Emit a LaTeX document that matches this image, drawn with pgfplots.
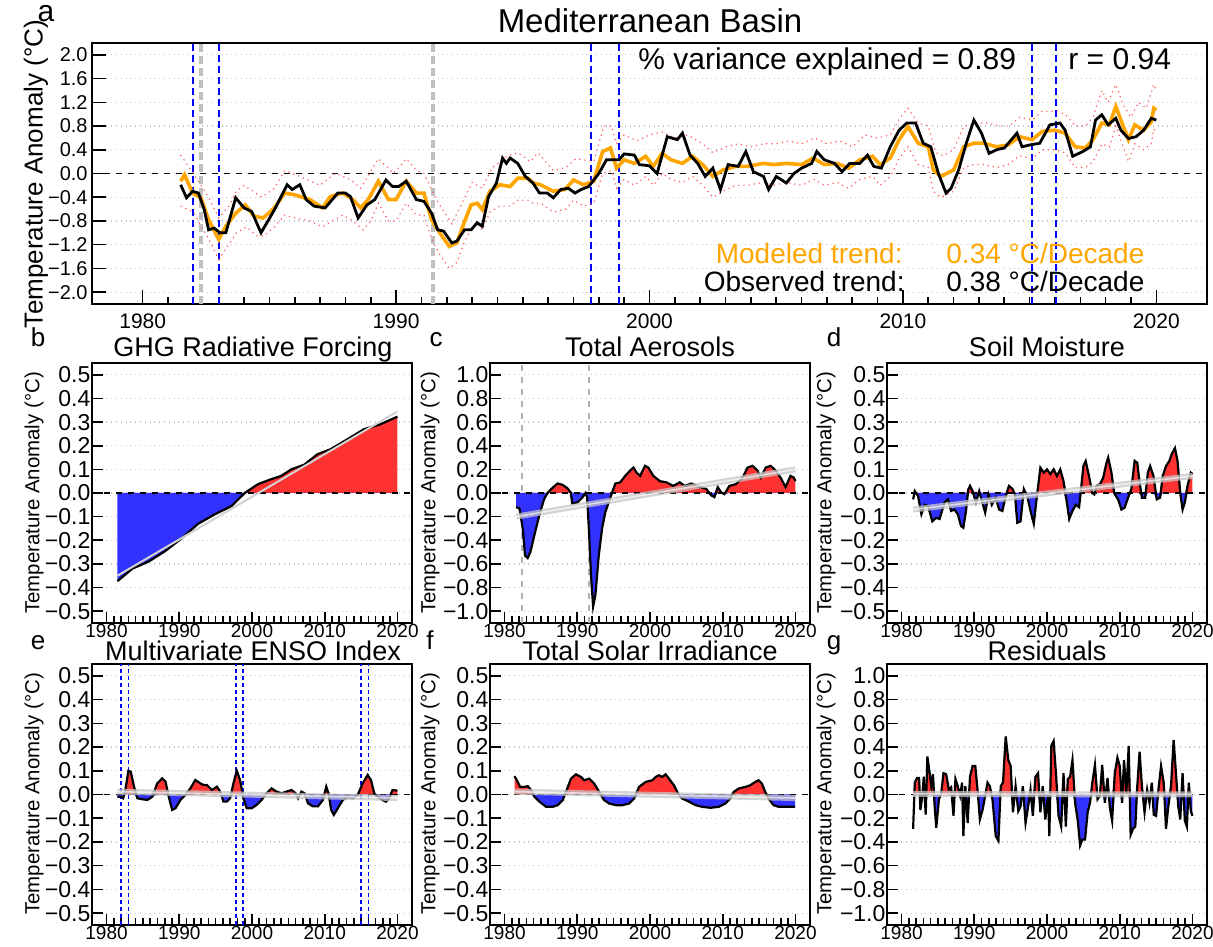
\documentclass[border=0pt]{standalone}
\usepackage{fontspec}
\setmainfont{Liberation Sans}
\usepackage{pgfplots}
\usepackage{pgfplotstable}
\pgfplotsset{compat=1.18}

\definecolor{myred}{RGB}{255,50,50}
\definecolor{myblue}{RGB}{50,50,255}
\definecolor{myorange}{RGB}{255,165,0}
\definecolor{gridc}{RGB}{185,200,220}
\definecolor{boundc}{RGB}{255,90,90}

% ---------------- data ----------------
\pgfplotstableread{
x y
1981.50 -0.19
1981.73 -0.41
1981.97 -0.30
1982.20 -0.33
1982.43 -0.61
1982.60 -0.95
1982.82 -0.92
1983.05 -1.00
1983.28 -1.00
1983.67 -0.41
1984.00 -0.58
1984.30 -0.64
1984.67 -1.00
1985.20 -0.61
1985.70 -0.19
1985.90 -0.27
1986.20 -0.19
1986.45 -0.44
1986.76 -0.55
1987.20 -0.58
1987.70 -0.33
1988.00 -0.33
1988.20 -0.39
1988.50 -0.75
1988.85 -0.53
1989.16 -0.44
1989.60 -0.11
1989.86 -0.22
1990.10 -0.22
1990.40 -0.13
1990.80 -0.44
1991.10 -0.47
1991.40 -0.67
1991.64 -0.95
1991.87 -0.97
1992.20 -1.17
1992.40 -1.14
1992.70 -0.95
1992.96 -0.95
1993.20 -0.83
1993.40 -0.89
1993.65 -0.39
1993.96 -0.16
1994.20 0.26
1994.35 0.17
1994.50 0.26
1994.80 0.17
1995.10 -0.05
1995.40 -0.16
1995.66 -0.33
1995.97 -0.33
1996.20 -0.41
1996.50 -0.27
1996.80 -0.25
1997.06 -0.33
1997.30 -0.27
1997.60 -0.22
1998.00 0.00
1998.30 0.23
1998.80 0.23
1999.00 0.33
1999.40 0.31
1999.60 0.15
2000.00 0.13
2000.30 0.00
2000.70 0.62
2001.10 0.57
2001.30 0.68
2001.60 0.31
2001.90 0.17
2002.20 -0.05
2002.50 0.09
2002.80 -0.27
2003.10 0.15
2003.50 0.12
2003.80 0.37
2004.10 0.03
2004.50 -0.05
2004.70 -0.27
2005.00 -0.05
2005.40 -0.16
2005.70 0.00
2006.00 0.09
2006.40 0.17
2006.60 0.37
2006.90 0.23
2007.30 0.17
2007.60 0.03
2007.90 0.17
2008.30 0.17
2008.60 0.31
2008.85 0.12
2009.15 0.09
2009.50 0.45
2009.85 0.73
2010.15 0.85
2010.50 0.85
2010.80 0.51
2011.10 0.45
2011.40 0.00
2011.70 -0.33
2011.90 -0.25
2012.20 0.06
2012.50 0.51
2012.80 0.90
2013.10 0.68
2013.40 0.34
2013.70 0.40
2014.00 0.43
2014.50 0.68
2014.70 0.45
2015.00 0.48
2015.40 0.51
2015.80 0.82
2016.20 0.85
2016.40 0.73
2016.70 0.29
2017.10 0.37
2017.40 0.45
2017.60 0.90
2017.85 0.99
2018.10 0.82
2018.40 0.93
2018.60 0.73
2018.90 0.59
2019.20 0.62
2019.50 0.73
2019.80 0.93
2020.00 0.90
}\obsdata

\pgfplotstableread{
x y
1981.50 -0.13
1981.65 -0.02
1981.97 -0.33
1982.30 -0.41
1982.60 -0.78
1983.00 -1.11
1983.28 -0.89
1983.67 -0.67
1984.05 -0.53
1984.40 -0.72
1984.75 -0.75
1985.20 -0.58
1985.60 -0.33
1986.00 -0.36
1986.60 -0.44
1987.10 -0.58
1987.40 -0.39
1987.90 -0.33
1988.30 -0.44
1988.60 -0.58
1988.90 -0.44
1989.30 -0.13
1989.70 -0.44
1990.00 -0.44
1990.40 -0.13
1990.80 -0.33
1991.10 -0.33
1991.40 -0.78
1991.72 -1.00
1992.10 -1.23
1992.40 -1.17
1992.70 -0.81
1992.96 -0.53
1993.20 -0.50
1993.40 -0.61
1993.70 -0.30
1994.10 -0.19
1994.50 -0.22
1994.80 -0.08
1995.20 -0.08
1995.40 -0.16
1995.70 -0.19
1996.20 -0.30
1996.66 -0.27
1997.00 -0.11
1997.40 -0.19
1997.80 -0.13
1998.15 0.37
1998.46 0.43
1998.70 0.09
1999.00 0.23
1999.40 0.17
1999.85 0.29
2000.15 0.12
2000.50 0.34
2000.85 0.23
2001.30 0.17
2001.70 0.29
2002.10 0.15
2002.50 -0.05
2002.90 0.06
2003.40 0.12
2003.85 0.12
2004.50 0.17
2004.90 0.15
2005.40 0.17
2006.00 0.15
2006.46 0.26
2006.90 0.15
2007.40 0.17
2007.85 0.09
2008.30 0.23
2008.80 0.29
2009.10 0.15
2009.50 0.26
2009.85 0.57
2010.20 0.79
2010.60 0.51
2011.00 0.45
2011.20 0.06
2011.50 -0.05
2012.00 0.06
2012.40 0.45
2012.80 0.51
2013.20 0.51
2013.70 0.45
2014.15 0.48
2014.60 0.62
2015.10 0.57
2015.50 0.71
2016.00 0.73
2016.40 0.68
2016.80 0.45
2017.20 0.43
2017.50 0.57
2017.85 0.85
2018.15 0.82
2018.40 1.13
2018.70 0.79
2018.90 0.57
2019.15 0.82
2019.50 0.73
2019.80 0.87
2019.90 1.10
2020.00 1.07
}\moddata

\pgfplotstableread{
x y
1981.50 0.31
1982.00 0.00
1982.60 -0.40
1983.00 -0.75
1983.40 -0.55
1983.70 -0.30
1984.00 -0.20
1984.70 -0.40
1985.20 -0.25
1985.60 0.05
1986.20 -0.05
1987.00 -0.20
1987.60 0.00
1988.20 -0.10
1988.60 -0.25
1989.30 0.25
1989.90 0.00
1990.40 0.25
1990.80 0.05
1991.10 0.00
1991.60 -0.45
1992.20 -0.85
1992.60 -0.50
1993.00 -0.15
1993.40 -0.25
1993.80 0.10
1994.40 0.30
1994.80 0.35
1995.30 0.20
1995.60 0.35
1996.20 0.05
1996.70 0.10
1997.10 0.25
1997.80 0.20
1998.20 0.80
1998.50 0.80
1998.70 0.50
1999.00 0.65
1999.50 0.55
2000.00 0.65
2000.50 0.70
2001.00 0.60
2001.50 0.65
2002.10 0.50
2002.50 0.35
2003.00 0.45
2003.50 0.50
2004.00 0.45
2004.50 0.50
2005.00 0.50
2005.50 0.55
2006.00 0.50
2006.50 0.60
2007.00 0.50
2007.50 0.55
2008.00 0.45
2008.50 0.65
2009.00 0.60
2009.50 0.65
2009.90 0.95
2010.20 1.10
2010.60 0.85
2011.00 0.80
2011.30 0.35
2011.60 0.30
2012.00 0.40
2012.40 0.80
2012.90 0.85
2013.30 0.85
2013.80 0.80
2014.20 0.80
2014.60 0.95
2015.10 0.90
2015.50 1.05
2016.00 1.05
2016.40 1.00
2016.80 0.80
2017.20 0.80
2017.50 0.95
2017.85 1.40
2018.10 1.20
2018.40 1.50
2018.70 1.15
2019.00 0.95
2019.30 1.20
2019.60 1.10
2019.90 1.50
2020.00 1.40
}\updata

\pgfplotstableread{
x y
1981.50 -0.55
1982.00 -0.65
1982.60 -1.10
1983.00 -1.45
1983.40 -1.20
1983.70 -1.00
1984.10 -0.90
1984.50 -1.05
1984.80 -1.05
1985.20 -0.90
1985.60 -0.70
1986.00 -0.75
1986.60 -0.80
1987.10 -0.90
1987.50 -0.80
1987.90 -0.70
1988.30 -0.80
1988.70 -0.95
1989.00 -0.80
1989.30 -0.50
1989.70 -0.80
1990.00 -0.80
1990.40 -0.50
1990.80 -0.70
1991.10 -0.70
1991.40 -1.10
1991.70 -1.35
1992.10 -1.60
1992.40 -1.50
1992.70 -1.15
1993.00 -0.90
1993.20 -0.85
1993.40 -0.95
1993.70 -0.65
1994.10 -0.55
1994.50 -0.55
1994.80 -0.45
1995.20 -0.45
1995.40 -0.50
1995.70 -0.50
1996.20 -0.65
1996.70 -0.60
1997.00 -0.45
1997.40 -0.55
1997.80 -0.50
1998.15 0.00
1998.50 0.05
1998.70 -0.25
1999.00 -0.10
1999.40 -0.20
1999.85 -0.05
2000.15 -0.20
2000.50 0.00
2000.85 -0.10
2001.30 -0.15
2001.70 -0.05
2002.10 -0.20
2002.50 -0.40
2002.90 -0.30
2003.40 -0.20
2003.85 -0.20
2004.50 -0.15
2004.90 -0.20
2005.40 -0.15
2006.00 -0.20
2006.50 -0.10
2006.90 -0.20
2007.40 -0.15
2007.85 -0.25
2008.30 -0.10
2008.80 -0.05
2009.10 -0.20
2009.50 -0.05
2009.85 0.25
2010.20 0.45
2010.60 0.15
2011.00 0.10
2011.20 -0.30
2011.50 -0.40
2012.00 -0.30
2012.40 0.10
2012.80 0.15
2013.20 0.15
2013.70 0.10
2014.15 0.15
2014.60 0.30
2015.10 0.25
2015.50 0.40
2016.00 0.40
2016.40 0.35
2016.80 0.10
2017.20 0.10
2017.50 0.20
2017.85 0.50
2018.15 0.45
2018.40 0.80
2018.70 0.45
2018.90 0.20
2019.15 0.50
2019.50 0.40
2019.80 0.50
2019.90 0.75
2020.00 0.70
}\lowdata

\pgfplotstableread{
x y
1981.50 -0.373
1983.55 -0.320
1985.80 -0.290
1988.10 -0.245
1990.40 -0.190
1992.60 -0.130
1994.90 -0.090
1997.20 -0.055
1999.00 0.000
2000.80 0.037
2002.60 0.058
2004.00 0.072
2005.40 0.100
2007.20 0.120
2009.00 0.164
2010.80 0.185
2013.10 0.227
2015.40 0.270
2017.60 0.290
2020.00 0.323
}\ghgdata

\pgfplotstableread{
x y
1981.59 -0.12
1982.05 -0.13
1982.50 -0.30
1982.82 -0.53
1983.18 -0.55
1983.55 -0.50
1984.09 -0.36
1984.77 -0.19
1985.45 -0.05
1985.91 0.00
1986.36 0.03
1987.27 0.08
1987.95 0.07
1988.64 0.04
1989.09 0.005
1989.32 -0.09
1990.00 -0.08
1990.68 -0.04
1991.14 0.00
1991.36 -0.04
1991.59 -0.30
1991.91 -0.72
1992.18 -0.96
1992.50 -0.86
1992.95 -0.53
1993.41 -0.30
1993.86 -0.16
1994.32 -0.08
1994.77 0.00
1995.23 0.08
1995.91 0.09
1996.59 0.145
1997.27 0.19
1997.73 0.215
1998.18 0.17
1998.64 0.145
1999.32 0.23
1999.77 0.215
2000.45 0.145
2001.36 0.10
2002.27 0.09
2003.18 0.06
2004.09 0.09
2004.77 0.06
2005.68 0.08
2006.82 0.05
2007.73 0.035
2008.41 -0.02
2008.86 -0.035
2009.32 0.05
2009.77 0.005
2010.23 -0.01
2010.91 0.06
2011.82 0.075
2012.73 0.13
2013.41 0.215
2014.09 0.23
2014.77 0.19
2015.23 0.13
2015.91 0.215
2016.59 0.23
2017.27 0.19
2017.95 0.13
2018.64 0.05
2019.32 0.145
2019.77 0.13
2020.00 0.10
}\aerdata

\pgfplotstableread{
x y
1981.59 -0.027
1981.82 0.008
1982.27 -0.013
1982.73 -0.09
1983.18 -0.05
1983.64 -0.055
1984.23 -0.12
1984.77 -0.105
1985.23 -0.11
1985.91 -0.04
1986.36 -0.027
1986.82 -0.076
1987.27 -0.07
1987.73 -0.09
1988.18 -0.14
1988.50 -0.147
1988.86 -0.076
1989.18 0.015
1989.41 0.03
1989.77 0.008
1990.23 -0.04
1990.68 0.008
1991.05 -0.034
1991.50 -0.083
1991.95 -0.006
1992.41 -0.05
1992.95 -0.02
1993.41 -0.07
1993.86 -0.076
1994.32 -0.013
1994.77 0.03
1995.23 0.018
1995.59 -0.006
1995.91 -0.126
1996.36 -0.12
1996.82 0.016
1997.27 -0.013
1997.73 -0.076
1998.18 -0.13
1998.64 -0.006
1999.09 0.107
1999.55 0.086
2000.00 0.10
2000.45 0.08
2000.91 0.10
2001.36 0.072
2001.82 0.10
2002.27 0.05
2002.73 -0.04
2003.05 -0.11
2003.50 -0.076
2003.95 -0.05
2004.41 -0.06
2004.68 0.016
2005.00 0.114
2005.32 0.135
2005.77 0.072
2006.23 0.0
2006.50 -0.006
2006.82 0.03
2007.27 0.037
2007.73 0.065
2008.18 0.128
2008.41 0.15
2008.86 0.086
2009.23 0.0
2009.77 -0.027
2010.23 -0.07
2010.68 -0.062
2011.14 -0.02
2011.59 0.016
2012.05 0.136
2012.41 0.128
2012.73 0.044
2013.05 -0.02
2013.50 -0.02
2013.86 0.086
2014.18 0.114
2014.64 0.072
2015.09 -0.027
2015.55 -0.02
2015.91 0.072
2016.36 0.114
2016.82 0.135
2017.14 0.164
2017.59 0.19
2017.95 0.135
2018.32 0.0
2018.64 -0.07
2018.95 -0.04
2019.32 0.03
2019.77 0.086
2020.00 0.08
}\soildata

\pgfplotstableread{
x y
1981.50 -0.01
1981.96 -0.01
1982.28 -0.016
1982.55 0.012
1983.01 0.10
1983.33 0.096
1983.78 0.033
1984.24 -0.016
1984.92 -0.02
1985.60 -0.023
1986.29 -0.01
1986.97 0.047
1987.65 0.068
1988.11 0.054
1988.56 -0.01
1989.02 -0.065
1989.48 -0.058
1990.16 -0.023
1990.84 -0.002
1991.53 0.026
1992.21 0.061
1992.89 0.047
1993.35 0.04
1993.80 0.04
1994.49 0.019
1995.17 0.033
1995.63 0.012
1996.08 -0.03
1996.54 -0.03
1996.99 -0.016
1997.45 0.047
1997.90 0.10
1998.36 0.061
1998.82 -0.016
1999.27 -0.058
1999.95 -0.058
2000.64 -0.044
2001.32 -0.023
2002.00 0.005
2002.69 0.026
2003.37 0.012
2004.05 0.005
2004.74 0.012
2005.42 0.019
2006.01 0.005
2006.33 -0.016
2006.79 0.012
2007.24 0.005
2007.70 -0.037
2008.38 -0.05
2009.07 -0.05
2009.75 -0.023
2010.21 0.033
2010.52 0.005
2010.89 -0.065
2011.25 -0.086
2011.80 -0.058
2012.48 -0.023
2013.17 -0.01
2013.85 -0.016
2014.53 -0.002
2015.22 0.047
2015.90 0.082
2016.36 0.061
2016.81 0.005
2017.27 -0.01
2017.95 -0.023
2018.41 -0.03
2018.86 -0.016
2019.32 0.019
2020.00 0.016
}\ensodata

\pgfplotstableread{
x y
1981.37 0.077
1981.69 0.06
1982.15 0.032
1982.74 0.032
1983.20 0.035
1983.65 0.018
1984.11 -0.01
1984.79 -0.03
1985.71 -0.052
1986.62 -0.052
1987.31 -0.045
1987.99 -0.024
1988.45 0.011
1989.13 0.067
1989.82 0.085
1990.50 0.074
1990.96 0.06
1991.64 0.067
1992.33 0.046
1993.01 0.011
1993.70 -0.024
1994.38 -0.038
1995.30 -0.045
1996.21 -0.045
1997.12 -0.038
1997.81 -0.017
1998.49 0.032
1999.41 0.053
2000.32 0.06
2000.78 0.074
2001.23 0.081
2001.69 0.074
2002.15 0.085
2002.60 0.067
2003.29 0.039
2003.97 -0.003
2004.43 -0.017
2005.34 -0.03
2006.26 -0.045
2007.17 -0.052
2008.31 -0.056
2009.45 -0.052
2010.37 -0.038
2011.05 -0.017
2011.51 0.011
2012.19 0.025
2013.11 0.032
2013.79 0.039
2014.47 0.053
2014.93 0.06
2015.39 0.046
2015.84 0.011
2016.30 -0.017
2016.99 -0.045
2017.67 -0.052
2018.58 -0.052
2019.95 -0.052
}\tsidata

\pgfplotstableread{
x y
1981.59 -0.29
1981.82 0.10
1982.14 0.14
1982.41 0.14
1982.59 -0.13
1982.86 -0.01
1983.05 0.15
1983.32 -0.17
1983.55 0.32
1983.86 0.18
1984.09 0.07
1984.32 0.17
1984.55 -0.10
1984.77 -0.28
1985.14 -0.04
1985.45 0.01
1985.77 0.18
1986.14 0.17
1986.50 0.04
1986.82 0.06
1987.14 -0.18
1987.41 0.13
1987.73 0.07
1988.05 -0.01
1988.32 0.10
1988.50 -0.35
1988.77 0.07
1989.09 -0.24
1989.41 0.15
1989.77 0.24
1990.14 0.24
1990.45 0.04
1990.77 -0.21
1991.14 -0.13
1991.50 -0.01
1991.82 0.10
1992.14 0.07
1992.50 -0.04
1992.95 -0.35
1993.32 -0.39
1993.64 0.07
1993.95 0.10
1994.32 0.49
1994.68 0.29
1995.00 0.24
1995.32 -0.15
1995.68 0.07
1996.05 -0.14
1996.36 -0.10
1996.68 0.07
1997.05 -0.24
1997.41 -0.10
1997.73 0.04
1998.05 -0.18
1998.41 0.15
1998.77 0.18
1999.09 -0.15
1999.41 0.07
1999.77 -0.21
2000.14 -0.01
2000.32 -0.35
2000.59 0.41
2000.91 0.45
2001.23 0.18
2001.59 -0.18
2001.95 -0.27
2002.27 0.18
2002.59 -0.27
2002.86 0.13
2003.18 0.15
2003.50 0.29
2003.86 -0.07
2004.23 -0.22
2004.55 -0.43
2004.86 -0.38
2005.23 -0.38
2005.59 -0.15
2005.91 -0.07
2006.23 0.10
2006.59 0.25
2006.95 -0.04
2007.27 -0.01
2007.59 0.25
2007.95 -0.07
2008.32 0.14
2008.64 -0.11
2008.95 -0.22
2009.32 0.18
2009.68 0.31
2010.00 0.24
2010.32 -0.07
2010.59 0.29
2010.91 0.01
2011.23 0.41
2011.50 -0.34
2011.82 -0.29
2012.14 -0.27
2012.41 0.07
2012.73 0.36
2013.05 0.07
2013.41 -0.15
2013.77 0.04
2014.09 -0.07
2014.41 0.10
2014.68 -0.17
2015.00 -0.18
2015.32 0.04
2015.68 0.24
2016.05 0.10
2016.36 -0.29
2016.68 -0.10
2017.05 0.07
2017.41 0.46
2017.73 0.18
2018.05 -0.10
2018.32 -0.21
2018.64 0.18
2018.95 -0.22
2019.23 -0.27
2019.50 0.10
2019.77 -0.14
2020.00 -0.18
}\resdata

% ---------------- styles ----------------
\pgfplotsset{
  base/.style={scale only axis, anchor=south west, xmin=1978, xmax=2022,
    tick pos=left, tick align=inside,
    axis line style={line width=1.2pt},
    every tick/.style={black, line width=0.8pt},
    ymajorgrids, grid style={gridc, dotted, line width=0.6pt},
    xtick={1980,1990,2000,2010,2020},
    xticklabels={1980,1990,2000,2010,2020},
    minor x tick num=9,
    /pgf/number format/assume math mode=true,
    clip=true},
  small/.style={base, width=160pt, major tick length=5.5pt, minor tick length=3.5pt,
    xticklabel style={font=\fontsize{9.5}{10}\selectfont, inner sep=0.6pt},
    yticklabel style={font=\fontsize{11.5}{12}\selectfont, inner sep=0.6pt}},
  half/.style={small, ymin=-0.55, ymax=0.55,
    ytick={-0.5,-0.4,-0.3,-0.2,-0.1,0,0.1,0.2,0.3,0.4,0.5},
    yticklabels={−0.5,−0.4,−0.3,−0.2,−0.1,0.0,0.1,0.2,0.3,0.4,0.5}},
  one/.style={small, ymin=-1.1, ymax=1.1,
    ytick={-1,-0.8,-0.6,-0.4,-0.2,0,0.2,0.4,0.6,0.8,1},
    yticklabels={−1.0,−0.8,−0.6,−0.4,−0.2,0.0,0.2,0.4,0.6,0.8,1.0}},
  vblue/.style={color=blue, solid, line width=1pt, dash pattern=on 3.5pt off 2pt},
  vblue2/.style={color=blue, solid, line width=0.85pt, dash pattern=on 2pt off 1.5pt},
}

\newcommand{\signedfill}[1]{%
  \addplot[fill=myred, draw=none, y filter/.expression={y<0 ? 0 : y}] table {#1} \closedcycle;
  \addplot[fill=myblue, draw=none, y filter/.expression={y>0 ? 0 : y}] table {#1} \closedcycle;
  \addplot[black, dashed, line width=0.9pt] coordinates {(1978,0) (2022,0)};
  \addplot[black, line width=1.1pt] table {#1};
}
\newcommand{\trend}[4]{%
  \addplot[gray!45, line width=3pt, opacity=0.75] coordinates {(#1,#2) (#3,#4)};
  \addplot[white, line width=0.8pt, opacity=0.6] coordinates {(#1,#2) (#3,#4)};
}

\begin{document}
\begin{tikzpicture}[x=0.5pt,y=0.5pt]
\path[use as bounding box] (0,0) rectangle (1213,946);

% ---------------- panel a ----------------
\begin{axis}[base, at={(46pt,321pt)}, width=557.5pt, height=130.5pt,
  ymin=-2.2, ymax=2.2,
  ytick={-2,-1.6,-1.2,-0.8,-0.4,0,0.4,0.8,1.2,1.6,2},
  yticklabels={−2.0,−1.6,−1.2,−0.8,−0.4,0.0,0.4,0.8,1.2,1.6,2.0},
  major tick length=7pt, minor tick length=3.5pt,
  xticklabel style={font=\fontsize{10.5}{11}\selectfont, inner sep=2pt, yshift=-2.5pt},
  yticklabel style={font=\fontsize{10}{11}\selectfont, inner sep=2pt}]
  \addplot[vblue] coordinates {(1982.0,-2.2) (1982.0,2.2)};
  \addplot[vblue] coordinates {(1983.0,-2.2) (1983.0,2.2)};
  \addplot[vblue] coordinates {(1997.7,-2.2) (1997.7,2.2)};
  \addplot[vblue] coordinates {(1998.8,-2.2) (1998.8,2.2)};
  \addplot[vblue] coordinates {(2015.1,-2.2) (2015.1,2.2)};
  \addplot[vblue] coordinates {(2016.05,-2.2) (2016.05,2.2)};
  \addplot[gray!50, line width=2pt, dash pattern=on 4pt off 2pt] coordinates {(1982.3,-2.2) (1982.3,2.2)};
  \addplot[gray!50, line width=2pt, dash pattern=on 4pt off 2pt] coordinates {(1991.45,-2.2) (1991.45,2.2)};
  \addplot[black, dashed, line width=0.9pt] coordinates {(1978,0) (2022,0)};
  \addplot[boundc, dotted, line width=0.6pt] table {\updata};
  \addplot[boundc, dotted, line width=0.6pt] table {\lowdata};
  \addplot[myorange, line width=1.8pt] table {\moddata};
  \addplot[black, line width=1.4pt] table {\obsdata};
\end{axis}

% ---------------- panel b ----------------
\begin{axis}[half, at={(46pt,161.5pt)}, height=130pt]
  \signedfill{\ghgdata}
  \addplot[gray!35, line width=1pt] coordinates {(1981.5,-0.35) (2020,0.345)};
\end{axis}

% ---------------- panel c ----------------
\begin{axis}[one, at={(245pt,161.5pt)}, height=130pt]
  \addplot[gray!60, dashed, line width=0.9pt] coordinates {(1982.35,-1.1) (1982.35,1.1)};
  \addplot[gray!60, dashed, line width=0.9pt] coordinates {(1991.6,-1.1) (1991.6,1.1)};
  \signedfill{\aerdata}
  \trend{1981.6}{-0.2}{2020}{0.2}
\end{axis}

% ---------------- panel d ----------------
\begin{axis}[half, at={(443.5pt,161.5pt)}, height=130pt]
  \signedfill{\soildata}
  \trend{1981.6}{-0.07}{2020}{0.072}
\end{axis}

% ---------------- panel e ----------------
\begin{axis}[half, at={(46pt,10.5pt)}, height=130.5pt]
  \addplot[vblue2] coordinates {(1981.96,-0.55) (1981.96,0.55)};
  \addplot[vblue2] coordinates {(1983.0,-0.55) (1983.0,0.55)};
  \addplot[vblue2] coordinates {(1997.8,-0.55) (1997.8,0.55)};
  \addplot[vblue2] coordinates {(1998.8,-0.55) (1998.8,0.55)};
  \addplot[vblue2] coordinates {(2015.0,-0.55) (2015.0,0.55)};
  \addplot[vblue2] coordinates {(2016.0,-0.55) (2016.0,0.55)};
  \signedfill{\ensodata}
  \trend{1981.5}{0.012}{2020}{-0.015}
\end{axis}

% ---------------- panel f ----------------
\begin{axis}[half, at={(245pt,10.5pt)}, height=130.5pt]
  \signedfill{\tsidata}
  \trend{1981.4}{0.012}{2020}{-0.015}
\end{axis}

% ---------------- panel g ----------------
\begin{axis}[one, at={(443.5pt,10.5pt)}, height=130.5pt]
  \signedfill{\resdata}
  \trend{1981.6}{0.005}{2020}{0.0}
\end{axis}

% ---------------- texts ----------------
\node[anchor=base, inner sep=0pt, font=\fontsize{15}{16}\selectfont] at (46,924) {a};
\node[anchor=base, font=\fontsize{16.5}{17}\selectfont] at (650,913) {Mediterranean Basin};
\node[rotate=90, font=\fontsize{13}{14}\selectfont] at (36,772) {Temperature Anomaly (°C)};
\node[anchor=base west, inner sep=0pt, font=\fontsize{15}{16}\selectfont] at (638,876) {\% variance explained = 0.89};
\node[anchor=base west, inner sep=0pt, font=\fontsize{15}{16}\selectfont] at (1068,876) {r = 0.94};
\node[anchor=base east, inner sep=0pt, text=myorange, font=\fontsize{14}{15}\selectfont] at (903,682) {Modeled trend:};
\node[anchor=base west, inner sep=0pt, text=myorange, font=\fontsize{14}{15}\selectfont] at (946,682) {0.34 °C/Decade};
\node[anchor=base east, inner sep=0pt, font=\fontsize{14}{15}\selectfont] at (905,654) {Observed trend:};
\node[anchor=base west, inner sep=0pt, font=\fontsize{14}{15}\selectfont] at (946,654) {0.38 °C/Decade};

\node[anchor=base, inner sep=0pt, font=\fontsize{13.5}{14}\selectfont] at (253,589) {GHG Radiative Forcing};
\node[anchor=base, inner sep=0pt, font=\fontsize{13.5}{14}\selectfont] at (650,589) {Total Aerosols};
\node[anchor=base, inner sep=0pt, font=\fontsize{13.5}{14}\selectfont] at (1047,589) {Soil Moisture};
\node[anchor=base, inner sep=0pt, font=\fontsize{13.5}{14}\selectfont] at (253,285) {Multivariate ENSO Index};
\node[anchor=base, inner sep=0pt, font=\fontsize{13.5}{14}\selectfont] at (650,285) {Total Solar Irradiance};
\node[anchor=base, inner sep=0pt, font=\fontsize{13.5}{14}\selectfont] at (1047,285) {Residuals};

\node[anchor=base, inner sep=0pt, font=\fontsize{13}{14}\selectfont] at (38,599) {b};
\node[anchor=base, inner sep=0pt, font=\fontsize{13}{14}\selectfont] at (436,599) {c};
\node[anchor=base, inner sep=0pt, font=\fontsize{13}{14}\selectfont] at (834,599) {d};
\node[anchor=base, inner sep=0pt, font=\fontsize{13}{14}\selectfont] at (38,296) {e};
\node[anchor=base, inner sep=0pt, font=\fontsize{13}{14}\selectfont] at (430,296) {f};
\node[anchor=base, inner sep=0pt, font=\fontsize{13}{14}\selectfont] at (834,296) {g};

\node[rotate=90, font=\fontsize{10.2}{11}\selectfont] at (34,453) {Temperature Anomaly (°C)};
\node[rotate=90, font=\fontsize{10.2}{11}\selectfont] at (430,453) {Temperature Anomaly (°C)};
\node[rotate=90, font=\fontsize{10.2}{11}\selectfont] at (826,453) {Temperature Anomaly (°C)};
\node[rotate=90, font=\fontsize{10.2}{11}\selectfont] at (34,152) {Temperature Anomaly (°C)};
\node[rotate=90, font=\fontsize{10.2}{11}\selectfont] at (430,152) {Temperature Anomaly (°C)};
\node[rotate=90, font=\fontsize{10.2}{11}\selectfont] at (826,152) {Temperature Anomaly (°C)};
\end{tikzpicture}
\end{document}
